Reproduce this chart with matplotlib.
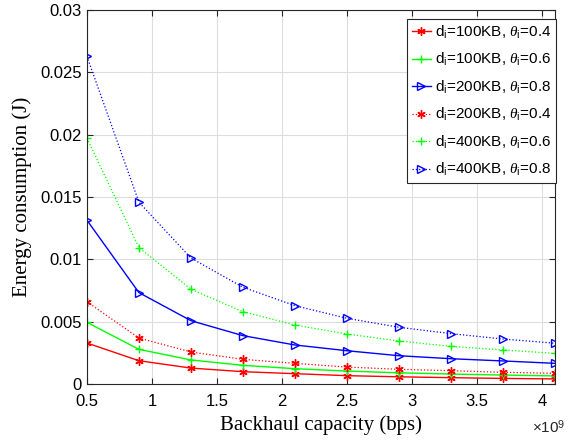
import matplotlib
matplotlib.use('Agg')
import matplotlib.pyplot as plt
from matplotlib.ticker import FuncFormatter

# backhaul capacity (bps)
capacity = [0.5e9, 0.9e9, 1.3e9, 1.7e9, 2.1e9, 2.5e9, 2.9e9, 3.3e9, 3.7e9, 4.1e9]

# energy consumption (J)
e_100_04 = [0.00329, 0.00187, 0.00128, 0.00099, 0.00083, 0.00067, 0.00058, 0.00051, 0.00045, 0.00041]
e_100_06 = [0.00495, 0.00278, 0.00193, 0.00150, 0.00123, 0.00104, 0.00090, 0.00080, 0.00072, 0.00065]
e_200_08 = [0.01314, 0.00733, 0.00508, 0.00388, 0.00313, 0.00267, 0.00227, 0.00203, 0.00185, 0.00166]
e_200_04 = [0.00660, 0.00369, 0.00257, 0.00198, 0.00166, 0.00136, 0.00118, 0.00107, 0.00094, 0.00086]
e_400_06 = [0.01972, 0.01094, 0.00760, 0.00580, 0.00473, 0.00401, 0.00345, 0.00302, 0.00273, 0.00246]
e_400_08 = [0.02627, 0.01458, 0.01010, 0.00776, 0.00628, 0.00527, 0.00455, 0.00404, 0.00361, 0.00327]

labels = [r'd$_\mathregular{i}$=100KB, $\theta_\mathregular{i}$=0.4',
          r'd$_\mathregular{i}$=100KB, $\theta_\mathregular{i}$=0.6',
          r'd$_\mathregular{i}$=200KB, $\theta_\mathregular{i}$=0.8',
          r'd$_\mathregular{i}$=200KB, $\theta_\mathregular{i}$=0.4',
          r'd$_\mathregular{i}$=400KB, $\theta_\mathregular{i}$=0.6',
          r'd$_\mathregular{i}$=400KB, $\theta_\mathregular{i}$=0.8']

plt.rcParams['font.family'] = 'Liberation Sans'
plt.rcParams['mathtext.fontset'] = 'custom'
plt.rcParams['mathtext.rm'] = 'Liberation Sans'
plt.rcParams['mathtext.it'] = 'Liberation Serif:italic'

fig = plt.figure(figsize=(5.68, 4.45), dpi=100)
ax = fig.add_axes([0.153, 0.137, 0.824, 0.841])

asterisk = (6, 2, 0)
series = [e_100_04, e_100_06, e_200_08, e_200_04, e_400_06, e_400_08]
styles = [('#ff0000', '-', asterisk), ('#00ff00', '-', '+'), ('#0000ff', '-', '>'),
          ('#ff0000', ':', asterisk), ('#00ff00', ':', '+'), ('#0000ff', ':', '>')]
for vals, (c, ls, m), lab in zip(series, styles, labels):
    ax.plot(capacity, vals, color=c, linestyle=ls, marker=m, markersize=6,
            markerfacecolor='none', markeredgecolor=c, markeredgewidth=1.0,
            linewidth=1.0 if ls == '-' else 0.9, label=lab)

ax.set_xlim(0.5e9, 4.1e9)
ax.set_ylim(0, 0.03)
ax.set_xticks([0.5e9, 1e9, 1.5e9, 2e9, 2.5e9, 3e9, 3.5e9, 4e9])
ax.xaxis.set_major_formatter(FuncFormatter(lambda v, p: '%g' % (v / 1e9)))
ax.yaxis.set_major_formatter(FuncFormatter(lambda v, p: '%g' % v))
ax.tick_params(direction='in', top=True, right=True, labelsize=12, length=4, color='#262626')
ax.tick_params(axis='x', pad=7)
for s in ax.spines.values():
    s.set_color('#262626')
    s.set_linewidth(0.8)
ax.grid(True, color='#dddddd', linewidth=0.8)
ax.set_axisbelow(True)

ax.set_xlabel('Backhaul capacity (bps)', fontfamily='Liberation Serif', fontsize=15, labelpad=5)
ax.set_ylabel('Energy consumption (J)', fontfamily='Liberation Serif', fontsize=15, labelpad=6)
fig.text(0.936, 0.026, r'$\times$10$^\mathregular{9}$', fontsize=11, color='#262626')

leg = ax.legend(loc='upper right', bbox_to_anchor=(1.003, 0.975), fontsize=11,
                fancybox=False, framealpha=1, edgecolor='#262626', borderaxespad=0,
                handlelength=1.25, handletextpad=0.3, labelspacing=0.68, borderpad=0.3)
leg.get_frame().set_linewidth(0.8)

plt.savefig('out.png', dpi=100)
